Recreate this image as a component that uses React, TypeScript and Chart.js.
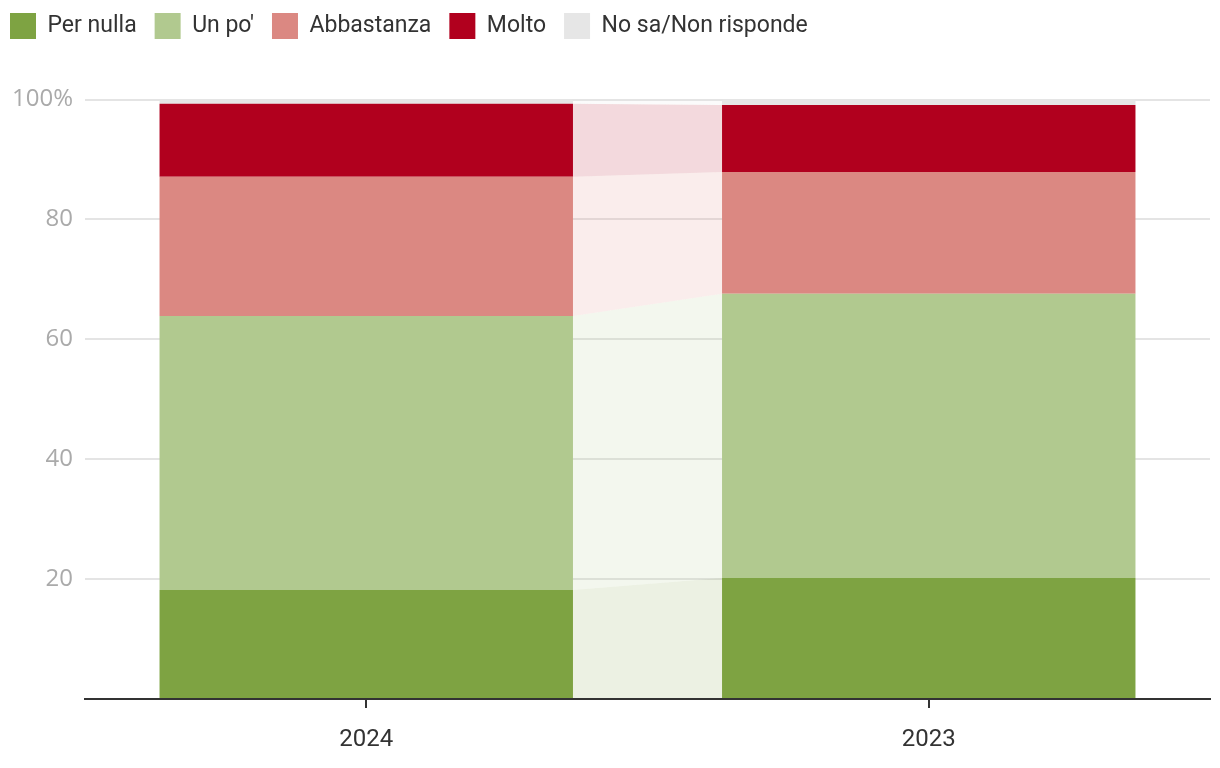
import React, { useEffect, useRef } from "react";
import { Chart, registerables } from "chart.js";

Chart.register(...registerables);

const categories = ["2024", "2023"];
const seriesNames = ["Per nulla", "Un po'", "Abbastanza", "Molto", "No sa/Non risponde"];
const perNulla = [18.2, 20.2];
const unPo = [45.7, 47.4];
const abbastanza = [23.2, 20.3];
const molto = [12.2, 11.2];
const noSa = [0.7, 0.9];
const yTicks = [0, 20, 40, 60, 80, 100];

const colors = ["#7ea342", "#b1c98f", "#db8882", "#b1001e", "#e6e6e6"];
const connectorColors = [
  "rgba(126,163,66,0.15)",
  "rgba(177,201,143,0.15)",
  "rgba(219,136,130,0.15)",
  "rgba(177,0,30,0.15)",
  "rgba(230,230,230,0.15)",
];

const connectorPlugin = {
  id: "connectors",
  beforeDatasetsDraw(chart: any) {
    const ctx = chart.ctx;
    chart.data.datasets.forEach((_ds: any, i: number) => {
      const meta = chart.getDatasetMeta(i);
      const a = meta.data[0] as any;
      const b = meta.data[1] as any;
      if (!a || !b) return;
      const x1 = a.x + a.width / 2;
      const x2 = b.x - b.width / 2;
      ctx.save();
      ctx.fillStyle = connectorColors[i];
      ctx.beginPath();
      ctx.moveTo(x1, a.y);
      ctx.lineTo(x2, b.y);
      ctx.lineTo(x2, b.base);
      ctx.lineTo(x1, a.base);
      ctx.closePath();
      ctx.fill();
      ctx.restore();
    });
  },
};

const legendSpacing = {
  id: "legendSpacing",
  afterInit(chart: any) {
    const lg = chart.legend;
    if (!lg || lg._patched) return;
    const orig = lg.fit;
    lg.fit = function () {
      orig.call(this);
      this.height += 50.5;
    };
    lg._patched = true;
  },
};

export default function App() {
  const ref = useRef<HTMLCanvasElement>(null);
  useEffect(() => {
    if (!ref.current) return;
    const datasets = [perNulla, unPo, abbastanza, molto, noSa].map((d, i) => ({
      label: seriesNames[i],
      data: d,
      backgroundColor: colors[i],
      borderWidth: 0,
      categoryPercentage: 1,
      barPercentage: 0.735,
    }));
    const chart = new Chart(ref.current, {
      type: "bar",
      data: { labels: categories, datasets },
      plugins: [connectorPlugin, legendSpacing],
      options: {
        animation: false,
        responsive: false,
        layout: { padding: { left: 0, right: 10, top: 0, bottom: 0 } },
        plugins: {
          tooltip: { enabled: false },
          legend: {
            position: "top",
            align: "start",
            labels: {
              boxWidth: 26,
              boxHeight: 26,
              padding: 18,
              color: "#333",
              font: { family: "Roboto", size: 23 },
            },
          },
        },
        scales: {
          x: {
            stacked: true,
            grid: {
              display: true,
              drawOnChartArea: false,
              drawTicks: true,
              tickLength: 9,
              color: "#333",
              lineWidth: 2,
              offset: false,
            },
            border: { display: true, color: "#333", width: 2 },
            ticks: {
              color: "#333",
              font: { family: "Roboto", size: 24 },
              padding: 18,
            },
            afterFit(axis: any) {
              axis.height = 69;
            },
          },
          y: {
            stacked: true,
            min: 0,
            max: 100,
            afterBuildTicks(axis: any) {
              axis.ticks = yTicks.map((v) => ({ value: v }));
            },
            grid: { color: "#e4e4e4", lineWidth: 2, drawTicks: false },
            border: { display: false },
            ticks: {
              color: "#aaaaaa",
              font: { family: "Open Sans", size: 24 },
              padding: 12,
              callback: (v: any) => (v === 0 ? "" : v === 100 ? "100%" : String(v)),
            },
            afterFit(axis: any) {
              axis.width = 93;
            },
          },
        },
      },
    });
    return () => chart.destroy();
  }, []);
  return (
    <div style={{ position: "fixed", left: -8, top: -5, width: 1228, height: 773, background: "#fff" }}>
      <canvas ref={ref} width={1228} height={773} style={{ width: 1228, height: 773, display: "block" }} />
    </div>
  );
}
